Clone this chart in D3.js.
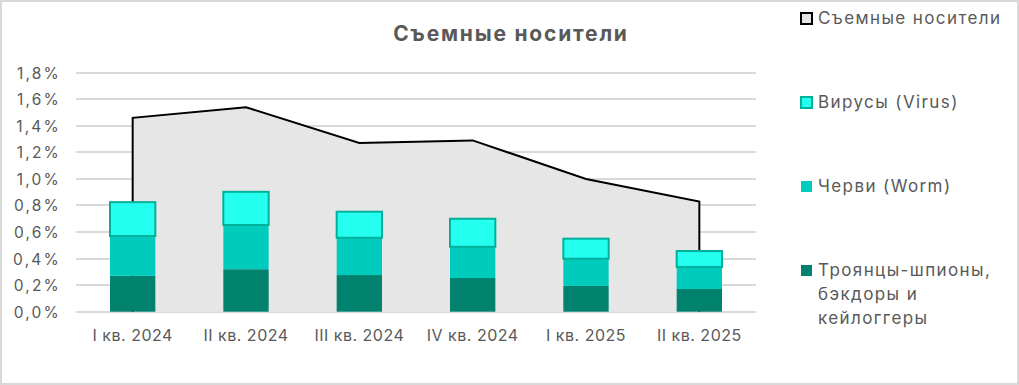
<!DOCTYPE html>
<html>
<head>
<meta charset="utf-8">
<title>Съемные носители</title>
<style>
body { margin: 0; background: #fff; }
text { font-family: "Inter", "Noto Sans", sans-serif; fill: #595959; }
.grid line { stroke: #d9d9d9; stroke-width: 2; shape-rendering: crispEdges; }
.xaxis path, .xaxis line, .yaxis path, .yaxis line { display: none; }
</style>
</head>
<body>
<div id="chart"></div>
<script src="https://cdn.jsdelivr.net/npm/d3@7"></script>
<script>
var categories = ["I кв. 2024", "II кв. 2024", "III кв. 2024", "IV кв. 2024", "I кв. 2025", "II кв. 2025"];
var total = [1.46, 1.54, 1.27, 1.29, 1.00, 0.83];
var trojans = [0.27, 0.32, 0.276, 0.254, 0.194, 0.171];
var worms = [0.30, 0.333, 0.281, 0.235, 0.205, 0.166];
var viruses = [0.255, 0.25, 0.196, 0.211, 0.151, 0.12];
var yticks = [0, 0.2, 0.4, 0.6, 0.8, 1.0, 1.2, 1.4, 1.6, 1.8];
var legendNames = ["Съемные носители", "Вирусы (Virus)", "Черви (Worm)", "Троянцы-шпионы, бэкдоры и кейлоггеры"];

var W = 1019, H = 385;
var plot = { left: 76, right: 756, top: 72.7, bottom: 311.7 };

var svg = d3.select("#chart").append("svg")
    .attr("width", W).attr("height", H);

svg.append("rect")
    .attr("x", 1).attr("y", 1).attr("width", W - 2).attr("height", H - 2)
    .attr("fill", "#fff").attr("stroke", "#d9d9d9").attr("stroke-width", 2);

var x = d3.scaleBand().domain(categories).range([plot.left, plot.right]).paddingInner(0.6).paddingOuter(0.3);
var xc = function(c) { return x(c) + x.bandwidth() / 2; };
var y = d3.scaleLinear().domain([0, 1.8]).range([plot.bottom, plot.top]);

// gridlines
svg.append("g").attr("class", "grid")
  .selectAll("line").data(yticks).enter().append("line")
    .attr("x1", plot.left).attr("x2", plot.right)
    .attr("y1", function(d) { return Math.round(y(d)); })
    .attr("y2", function(d) { return Math.round(y(d)); });

// area for total
var pts = categories.map(function(c, i) { return { c: c, v: total[i] }; });
svg.append("path")
    .datum(pts)
    .attr("fill", "#e6e6e6")
    .attr("d", d3.area().x(function(d) { return xc(d.c); }).y0(y(0)).y1(function(d) { return y(d.v); }));
var outline = [{ c: categories[0], v: 0 }].concat(pts).concat([{ c: categories[categories.length - 1], v: 0 }]);
svg.append("path")
    .datum(outline)
    .attr("fill", "none").attr("stroke", "#000").attr("stroke-width", 2)
    .attr("d", d3.line().x(function(d) { return xc(d.c); }).y(function(d) { return y(d.v); }));

// stacked bars
var rows = categories.map(function(c, i) { return { c: c, trojans: trojans[i], worms: worms[i], viruses: viruses[i] }; });
var stack = d3.stack().keys(["trojans", "worms", "viruses"])(rows);
var fills = { trojans: "#00826e", worms: "#00ccbe", viruses: "#25fff0" };
stack.forEach(function(layer) {
    var isVirus = layer.key === "viruses";
    svg.append("g").selectAll("rect").data(layer).enter().append("rect")
        .attr("x", function(d) { return x(d.data.c); })
        .attr("y", function(d) { return y(d[1]); })
        .attr("width", x.bandwidth())
        .attr("height", function(d) { return y(d[0]) - y(d[1]); })
        .attr("fill", fills[layer.key])
        .attr("stroke", isVirus ? "#00b09a" : "none")
        .attr("stroke-width", isVirus ? 2 : 0);
});

// axes
var fmt = function(d) { return d.toFixed(1).replace(".", ",") + "%"; };
var yaxis = svg.append("g").attr("class", "yaxis")
    .attr("transform", "translate(" + plot.left + ",0)")
    .call(d3.axisLeft(y).tickValues(yticks).tickFormat(fmt).tickSize(0).tickPadding(15));
yaxis.selectAll("text").style("font-size", "15.5px").style("letter-spacing", "2.2px").attr("dy", "0.35em");

var xaxis = svg.append("g").attr("class", "xaxis")
    .attr("transform", "translate(0," + plot.bottom + ")")
    .call(d3.axisBottom(x).tickSize(0).tickPadding(18));
xaxis.selectAll("text").style("font-size", "16px").style("letter-spacing", "0.5px");

// title
svg.append("text")
    .attr("x", 511).attr("y", 41)
    .attr("text-anchor", "middle")
    .style("font-size", "21px").style("font-weight", "bold").style("letter-spacing", "1.8px")
    .text("Съемные носители");

// legend
var legend = [
    { fill: "#e6e6e6", stroke: "#000", y: 18, lines: [legendNames[0]] },
    { fill: fills.viruses, stroke: "#00b09a", y: 102, lines: [legendNames[1]] },
    { fill: fills.worms, stroke: "none", y: 186, lines: [legendNames[2]] },
    { fill: fills.trojans, stroke: "none", y: 270, lines: ["Троянцы-шпионы,", "бэкдоры и", "кейлоггеры"] }
];
var lg = svg.append("g").selectAll("g").data(legend).enter().append("g");
lg.append("rect")
    .attr("x", 801).attr("y", function(d) { return d.y - 5; })
    .attr("width", 11).attr("height", 11)
    .attr("fill", function(d) { return d.fill; })
    .attr("stroke", function(d) { return d.stroke; })
    .attr("stroke-width", 2);
lg.each(function(d) {
    var t = d3.select(this).append("text")
        .attr("x", 818).attr("y", d.y + 6)
        .style("font-size", "17px").style("letter-spacing", "1.4px");
    d.lines.forEach(function(l, i) {
        t.append("tspan").attr("x", 818).attr("dy", i === 0 ? 0 : 24).text(l);
    });
});
</script>
</body>
</html>
